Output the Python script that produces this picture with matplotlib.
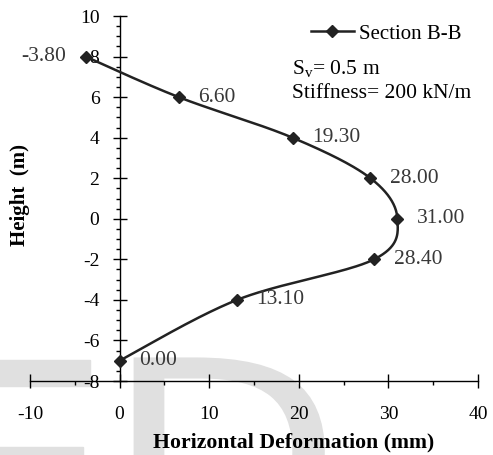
#!/usr/bin/env python3

import matplotlib
matplotlib.use('Agg')
import matplotlib.pyplot as plt
import numpy as np
from matplotlib.font_manager import FontProperties
from matplotlib.patches import PathPatch, Rectangle
from matplotlib.textpath import TextPath
from matplotlib.ticker import MultipleLocator
from matplotlib.transforms import Affine2D

# horizontal deformation (mm) against height (m), section B-B
deform = [-3.80, 6.60, 19.30, 28.00, 31.00, 28.40, 13.10, 0.00]
height = [8, 6, 4, 2, 0, -2, -4, -7]
labels = ['-3.80', '6.60', '19.30', '28.00', '31.00', '28.40', '13.10', '0.00']

DARK = '#222222'
W, H = 493, 455


def smooth_line(xs, ys, sx, sy, n=40):
    # excel style smoothed line: cubic bezier, control points from neighbours
    p = np.column_stack([np.asarray(xs) * sx, np.asarray(ys) * sy])
    p = np.vstack([p[0], p, p[-1]])
    t = np.linspace(0, 1, n)[:, None]
    out = []
    for i in range(1, len(p) - 2):
        b0 = p[i]
        b3 = p[i + 1]
        b1 = b0 + (p[i + 1] - p[i - 1]) / 6
        b2 = b3 - (p[i + 2] - p[i]) / 6
        seg = ((1 - t) ** 3 * b0 + 3 * (1 - t) ** 2 * t * b1
               + 3 * (1 - t) * t ** 2 * b2 + t ** 3 * b3)
        out.append(seg)
    out = np.vstack(out)
    return out[:, 0] / sx, out[:, 1] / sy


plt.rcParams['font.family'] = ['Liberation Serif', 'DejaVu Serif']
plt.rcParams['mathtext.fontset'] = 'custom'
plt.rcParams['mathtext.rm'] = 'Liberation Serif'
plt.rcParams['axes.unicode_minus'] = False

fig = plt.figure(figsize=(W / 100, H / 100), dpi=100)
ax = fig.add_axes([0.0609, 0.1626, 0.9087, 0.8022])
ax.patch.set_alpha(0)

# faint watermark behind the plot (pixel coords)
wm = '#e0e0e0'
fig.patches.append(Rectangle((-10 / W, 1 - 386 / H), 100 / W, 26 / H,
                             transform=fig.transFigure, color=wm, zorder=-5))
fig.patches.append(Rectangle((-10 / W, 1 - 480 / H), 93 / W, 33 / H,
                             transform=fig.transFigure, color=wm, zorder=-5))
dpath = TextPath((0, 0), 'D', size=260, prop=FontProperties(family='DejaVu Sans'))
fig.patches.append(PathPatch(dpath, color=wm, lw=0, zorder=-5,
                             transform=Affine2D().scale(1.2, 1.0).translate(103, H - 547)))

cx, cy = smooth_line(deform, height, 8.96, 20.3)
ax.plot(cx, cy, color=DARK, linewidth=1.8, solid_capstyle='round', zorder=3)
ax.plot(deform, height, linestyle='none', marker='D', markersize=6.5,
        color=DARK, zorder=4)
# legend proxy
ax.plot([], [], color=DARK, linewidth=1.8, marker='D', markersize=6.5,
        label='Section B-B')

for x, y, s in zip(deform, height, labels):
    if x < 0:
        ax.annotate(s, (x, y), xytext=(-14, 0), textcoords='offset points',
                    ha='right', va='center', fontsize=15.5, color='#383838')
    else:
        ax.annotate(s, (x, y), xytext=(14, 0), textcoords='offset points',
                    ha='left', va='center', fontsize=15.5, color='#383838')

ax.set_xlim(-10, 40)
ax.set_ylim(-8, 10)
ax.spines['left'].set_position(('data', 0))
ax.spines['top'].set_visible(False)
ax.spines['right'].set_visible(False)
ax.spines['left'].set_linewidth(1.0)
ax.spines['bottom'].set_linewidth(1.0)

ax.xaxis.set_major_locator(MultipleLocator(10))
ax.xaxis.set_minor_locator(MultipleLocator(5))
ax.yaxis.set_major_locator(MultipleLocator(2))
ax.yaxis.set_minor_locator(MultipleLocator(0.5))
ax.tick_params(axis='both', which='major', direction='inout', length=10,
               width=1.0, labelsize=14)
ax.tick_params(axis='both', which='minor', direction='out', length=3,
               width=1.0)
ax.tick_params(axis='x', which='major', pad=13)
ax.tick_params(axis='y', which='major', pad=9.5)

leg = ax.legend(loc='upper right', bbox_to_anchor=(0.99, 1.012),
                frameon=False, fontsize=15, handlelength=2.1,
                handletextpad=0.2, borderaxespad=0.2)

fig.text(292 / W, 1 - 69 / H, 'S$_\\mathregular{v}$= 0.5 m',
         fontsize=15.5, ha='left', va='center')
fig.text(292 / W, 1 - 93 / H, 'Stiffness= 200 kN/m',
         fontsize=15.5, ha='left', va='center')

fig.text(294 / W, 1 - 442 / H, 'Horizontal Deformation (mm)',
         fontsize=15.7, fontweight='bold', ha='center', va='center')
fig.text(20 / W, 1 - 195 / H, 'Height  (m)', fontsize=15,
         fontweight='bold', rotation=90, ha='center', va='center')

fig.savefig('out.png', dpi=100)
